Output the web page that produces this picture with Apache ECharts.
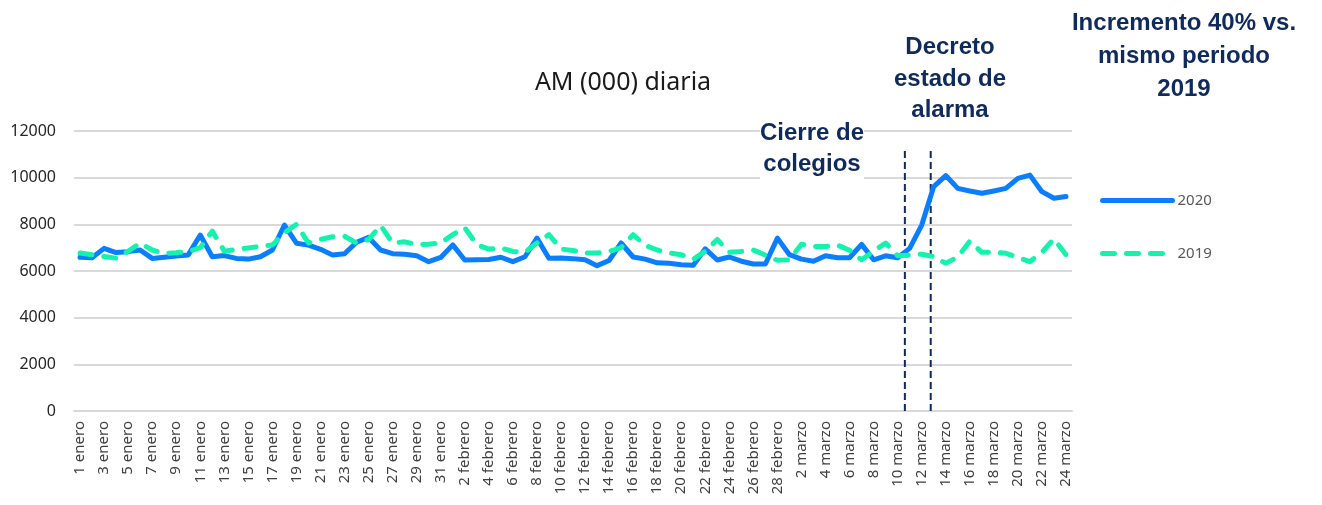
<!DOCTYPE html>
<html>
<head>
<meta charset="utf-8">
<script src="https://cdn.jsdelivr.net/npm/echarts@6/dist/echarts.min.js"></script>
<style>
  html, body { margin: 0; padding: 0; background: #fff; }
  #chart { width: 1322px; height: 505px; }
</style>
</head>
<body>
<div id="chart"></div>
<script>
// dias: enero, febrero (sin el 29), marzo hasta el 24
const meses = [['enero', 31], ['febrero', 28], ['marzo', 24]];
const dias = [];
meses.forEach(function (m) {
  for (let d = 1; d <= m[1]; d++) dias.push(d + ' ' + m[0]);
});

const am2020 = [
  6590, 6570, 6970, 6790, 6830, 6900, 6540, 6590, 6640, 6690,
  7540, 6610, 6660, 6540, 6510, 6610, 6900, 7970, 7190, 7110,
  6930, 6690, 6740, 7230, 7440, 6900, 6740, 6720, 6650, 6400,
  6580, 7120, 6470, 6480, 6490, 6590, 6400, 6610, 7410, 6550,
  6560, 6530, 6480, 6230, 6450, 7200, 6600, 6510, 6350, 6330,
  6270, 6250, 6950, 6470, 6600, 6420, 6300, 6300, 7410, 6700,
  6510, 6420, 6650, 6570, 6570, 7140, 6480, 6650, 6570, 6970,
  7970, 9620, 10090, 9540, 9430, 9330, 9430, 9540, 9970, 10110,
  9400, 9120, 9190
];

const am2019 = [
  6770, 6700, 6620, 6550, 6840, 7200, 6900, 6750, 6780, 6830,
  7000, 7710, 6850, 6930, 6990, 7060, 7110, 7640, 8000, 7200,
  7350, 7470, 7490, 7200, 7350, 7950, 7200, 7250, 7130, 7150,
  7200, 7560, 7850, 7130, 6940, 6990, 6840, 6800, 7200, 7560,
  6940, 6880, 6770, 6770, 6840, 7000, 7560, 7100, 6900, 6780,
  6700, 6500, 6850, 7350, 6800, 6840, 6900, 6680, 6460, 6480,
  7150, 7050, 7050, 7110, 6890, 6480, 6850, 7200, 6650, 6680,
  6720, 6620, 6330, 6600, 7280, 6800, 6800, 6760, 6580, 6400,
  6800, 7380, 6700
];

// posicion de las lineas verticales (en indice de dia) y su altura
const eventos = [68.6, 70.75];
const eventoTop = 11300;

const azul = '#0b7dff';
const verde = '#14f3ae';
const navy = '#0f2a5c';
const fuente = '"Noto Sans", sans-serif';
const fuenteNota = '"Liberation Sans", Arial, sans-serif';

const chart = echarts.init(document.getElementById('chart'));

const eventSeries = eventos.map(function (x, i) {
  return {
    name: 'evento' + i,
    type: 'line',
    xAxisIndex: 1,
    data: [[x, 0], [x, eventoTop]],
    symbol: 'none',
    silent: true,
    lineStyle: { color: navy, width: 2, type: [7, 4] },
    z: 1
  };
});

function nota(text, x, y, lh) {
  return {
    type: 'text',
    x: x,
    y: y,
    z: 100,
    style: {
      text: text,
      align: 'center',
      fill: navy,
      fontSize: 24,
      fontWeight: 'bold',
      lineHeight: lh,
      fontFamily: fuenteNota,
      backgroundColor: '#fff'
    }
  };
}

const option = {
  animation: false,
  grid: {
    left: 74,
    right: 250,
    top: 131,
    bottom: 94,
    containLabel: false,
    outerBoundsMode: 'none'
  },
  legend: {
    data: ['2020', '2019'],
    orient: 'vertical',
    left: 1100,
    top: 193,
    padding: 0,
    itemWidth: 70,
    itemHeight: 14,
    itemGap: 38,
    itemStyle: { opacity: 0 },
    lineStyle: { width: 5, cap: 'round' },
    textStyle: { color: '#595959', fontSize: 15, fontFamily: fuente }
  },
  xAxis: [
    {
      type: 'category',
      data: dias,
      boundaryGap: true,
      axisLine: { lineStyle: { color: '#d9d9d9', width: 2 } },
      axisTick: { show: false },
      axisLabel: {
        rotate: 90,
        interval: 1,
        margin: 10,
        color: '#404040',
        fontSize: 15,
        fontFamily: fuente
      }
    },
    {
      type: 'value',
      min: -0.5,
      max: dias.length - 0.5,
      show: false
    }
  ],
  yAxis: {
    type: 'value',
    min: 0,
    max: 12000,
    interval: 2000,
    axisLine: { show: false },
    axisTick: { show: false },
    axisLabel: {
      margin: 18,
      color: '#262626',
      fontSize: 16,
      fontFamily: fuente,
      formatter: function (v) { return String(v); }
    },
    splitLine: { lineStyle: { color: '#d9d9d9', width: 2 } }
  },
  series: [
    {
      name: '2020',
      type: 'line',
      data: am2020,
      symbol: 'none',
      lineStyle: { color: azul, width: 5, cap: 'round', join: 'round' },
      itemStyle: { color: azul },
      z: 3
    },
    {
      name: '2019',
      type: 'line',
      data: am2019,
      symbol: 'none',
      lineStyle: { color: verde, width: 5, type: [12, 12], cap: 'round', join: 'round' },
      itemStyle: { color: verde },
      z: 4
    }
  ].concat(eventSeries),
  graphic: [
    {
      type: 'text',
      x: 623,
      y: 70,
      style: {
        text: 'AM (000) diaria',
        align: 'center',
        fill: '#1a1a1a',
        fontSize: 25,
        fontFamily: fuente
      }
    },
    nota('Cierre de\ncolegios', 812, 118, 31),
    nota('Decreto\nestado de\nalarma', 950, 32, 31.5),
    nota('Incremento 40% vs.\nmismo periodo\n2019', 1184, 7, 33)
  ]
};

chart.setOption(option);
</script>
</body>
</html>
